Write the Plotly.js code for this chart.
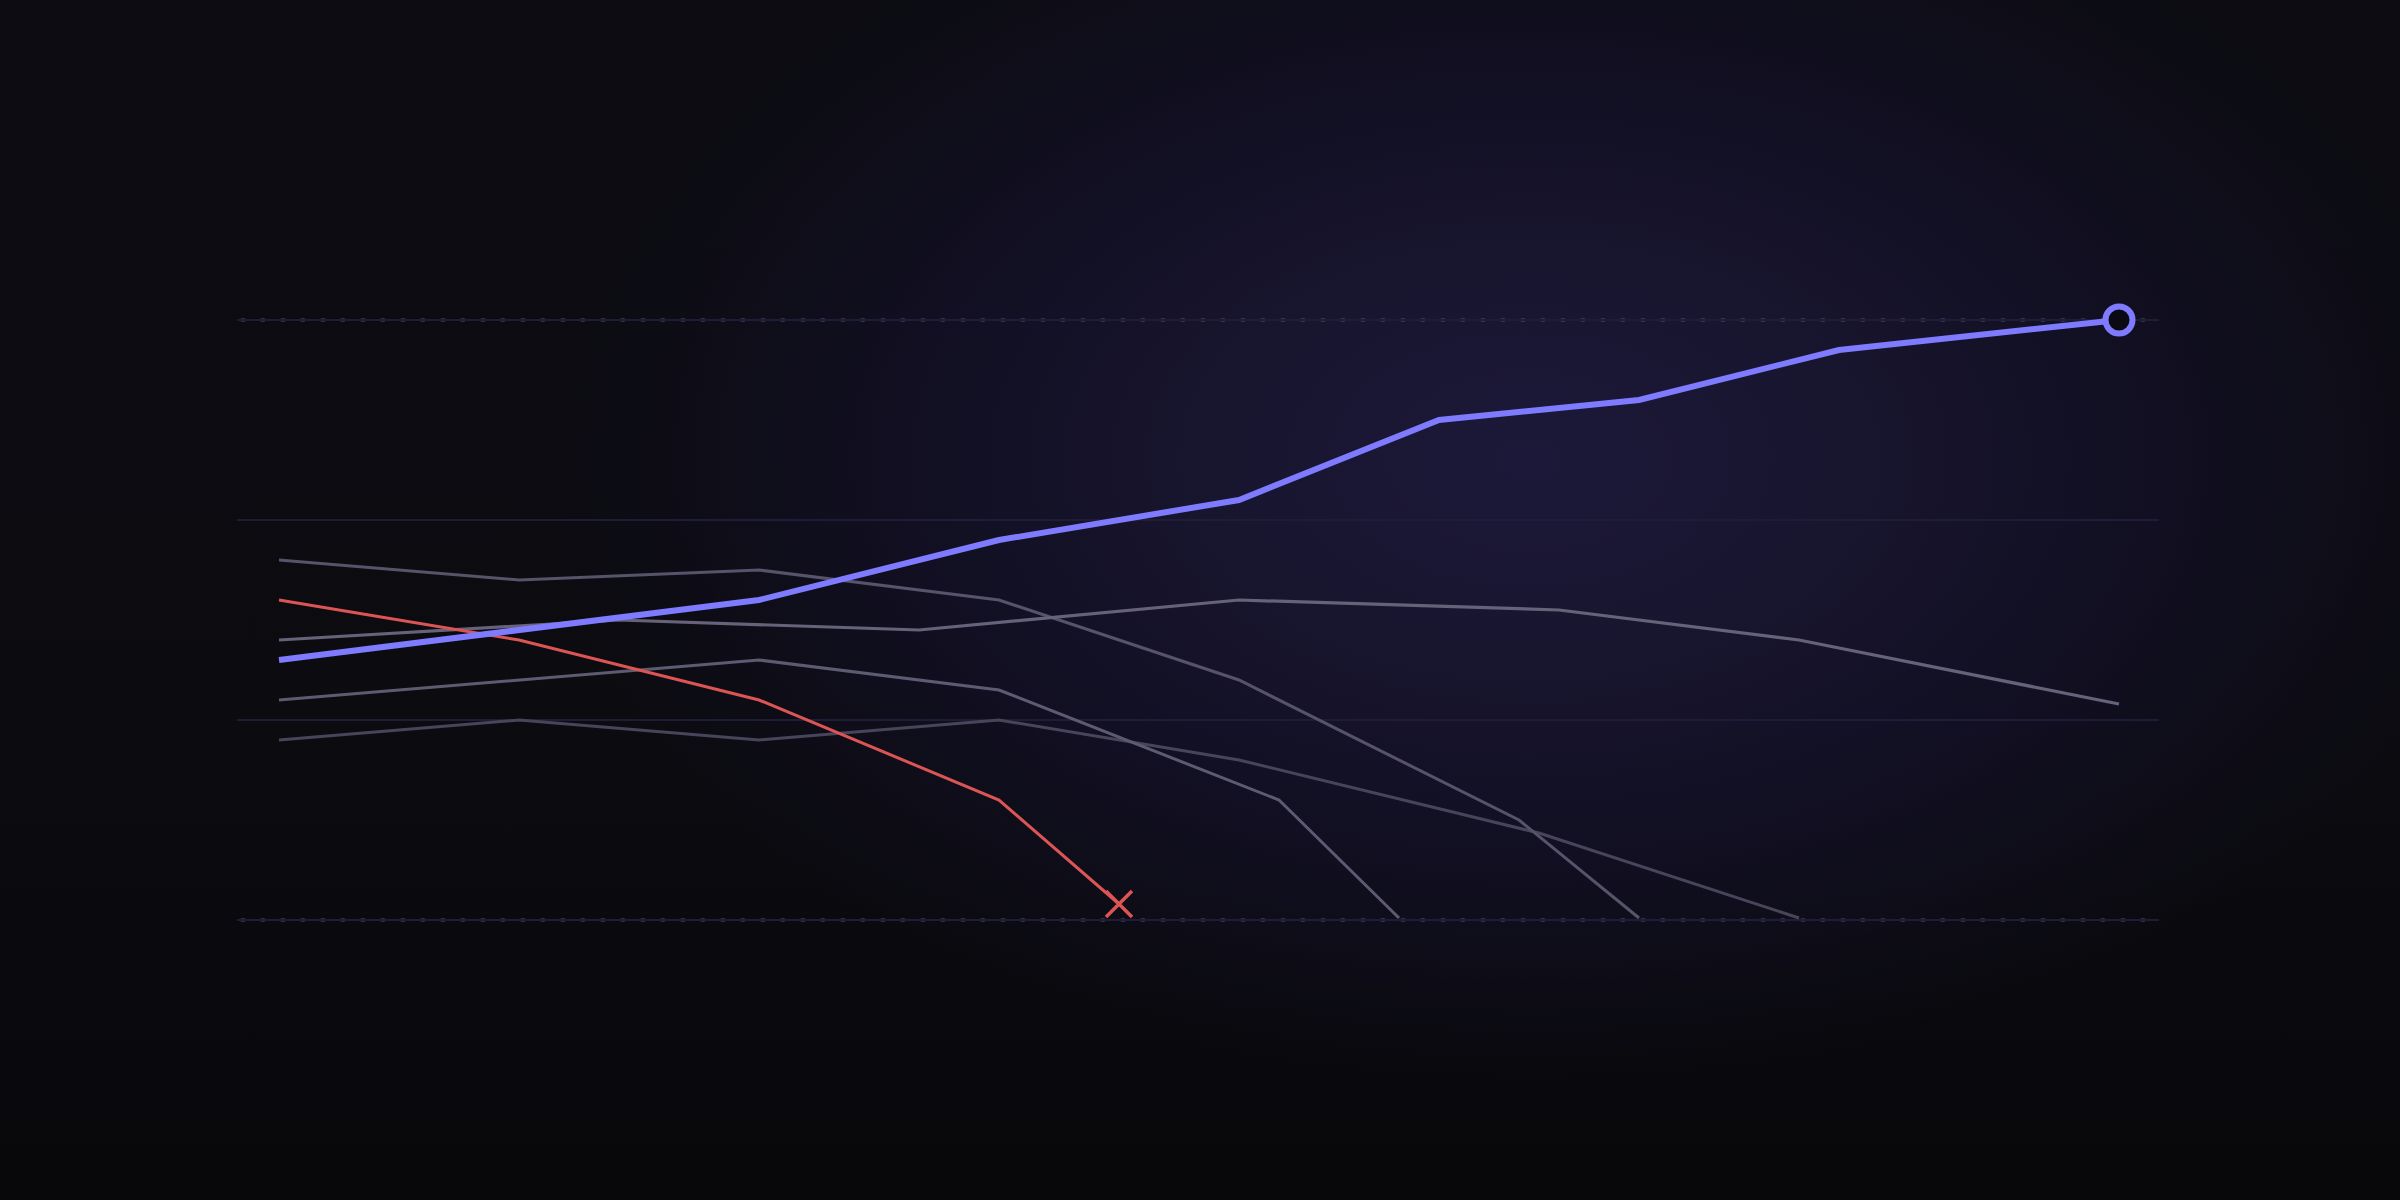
<!DOCTYPE html>
<html>
<head>
<meta charset="utf-8">
<script src="https://cdn.plot.ly/plotly-3.0.1.min.js"></script>
<style>
  html, body {
    margin: 0;
    padding: 0;
    background: #0a0a0e;
  }

  #plot {
    width: 2400px;
    height: 1200px;
    background:
      radial-gradient(ellipse 980px 620px at 1530px 460px,
        #1c1839 0%, #18152f 32%, #110f21 64%, rgba(11, 11, 16, 0) 100%),
      linear-gradient(to bottom, #0c0c12 0%, #0b0b10 65%, #08080b 100%);
  }
</style>
</head>
<body>
<div id="plot"></div>
<script>
(function () {
  "use strict";

  /*
    Werte.
    x in Zeiteinheiten, y von 0 (unten) bis 300 (oben).
  */
  var blueX = [0, 6, 12, 18, 24, 29, 34, 39, 43.5, 46];
  var blueY = [130, 145, 160, 190, 210, 250, 260, 285, 295, 300];

  var redX = [0, 6, 12, 18, 21];
  var redY = [160, 140, 110, 60, 8];

  var grey1X = [0, 6, 12, 18, 24, 31, 34];
  var grey1Y = [180, 170, 175, 160, 120, 50, 1];

  var grey2X = [0, 8.5, 16, 24, 32, 38, 46];
  var grey2Y = [140, 150, 145, 160, 155, 140, 108];

  var grey3X = [0, 12, 18, 25, 28];
  var grey3Y = [110, 130, 115, 60, 1];

  var grey4X = [0, 6, 12, 18, 24, 31.5, 38];
  var grey4Y = [90, 100, 90, 100, 80, 43.5, 1];

  var gridValues = [0, 100, 200, 300];
  var dottedValues = [0, 300];

  var BLUE = "#7f7bff";
  var RED = "#dc5555";

  function lineTrace(x, y, color, width) {
    return {
      x: x,
      y: y,
      type: "scatter",
      mode: "lines",
      line: { color: color, width: width },
      hoverinfo: "skip",
      showlegend: false,
      cliponaxis: false
    };
  }

  function endMarker(x, y, marker) {
    return {
      x: [x[x.length - 1]],
      y: [y[y.length - 1]],
      type: "scatter",
      mode: "markers",
      marker: marker,
      hoverinfo: "skip",
      showlegend: false,
      cliponaxis: false
    };
  }

  var traces = [
    lineTrace(grey4X, grey4Y, "#48455b", 3),
    lineTrace(grey1X, grey1Y, "#56536a", 3),
    lineTrace(grey3X, grey3Y, "#5d5a71", 3),
    lineTrace(grey2X, grey2Y, "#65627a", 3.2),
    lineTrace(redX, redY, RED, 3),
    lineTrace(blueX, blueY, BLUE, 6),

    endMarker(redX, redY, {
      symbol: "x-thin",
      size: 26,
      color: RED,
      line: { color: RED, width: 3.5 }
    }),
    endMarker(blueX, blueY, {
      symbol: "circle",
      size: 27,
      color: "#0b0a12",
      line: { color: BLUE, width: 6 }
    })
  ];

  /* obere und untere Linie gepunktet */
  var shapes = dottedValues.map(function (v) {
    return {
      type: "line",
      xref: "paper",
      yref: "y",
      x0: 0.002,
      x1: 1,
      y0: v,
      y1: v,
      layer: "below",
      line: { color: "#57556f", width: 3, dash: "4px,16px" }
    };
  });

  var layout = {
    width: 2400,
    height: 1200,
    margin: { l: 237, r: 241, t: 300, b: 260 },
    paper_bgcolor: "rgba(0,0,0,0)",
    plot_bgcolor: "rgba(0,0,0,0)",
    showlegend: false,

    xaxis: {
      range: [-1.05, 47],
      showgrid: false,
      zeroline: false,
      showline: false,
      showticklabels: false,
      ticks: ""
    },

    yaxis: {
      range: [-10, 310],
      tickmode: "array",
      tickvals: gridValues,
      showticklabels: false,
      ticks: "",
      showgrid: true,
      gridcolor: "#1f1c38",
      gridwidth: 2,
      zeroline: false,
      showline: false
    },

    shapes: shapes
  };

  Plotly.newPlot("plot", traces, layout, {
    displayModeBar: false,
    staticPlot: true
  });
})();
</script>
</body>
</html>
